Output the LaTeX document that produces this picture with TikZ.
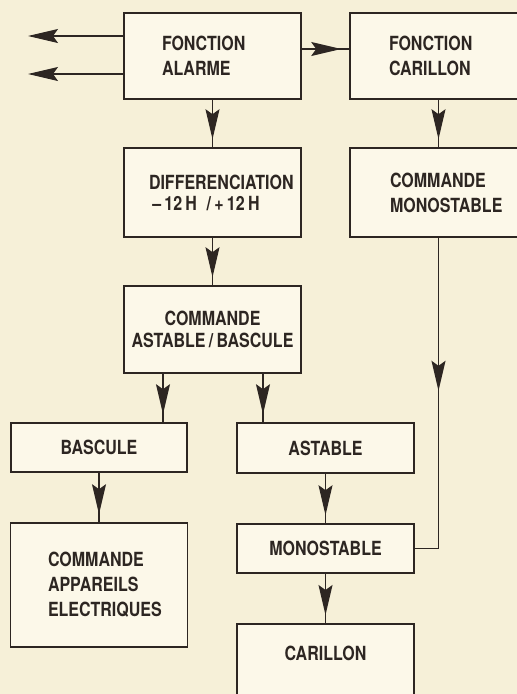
\documentclass[tikz,border=0pt]{standalone}
\usepackage{fontspec}
\setmainfont[FakeStretch=0.82]{TeX Gyre Heros}
\usetikzlibrary{arrows.meta,decorations.markings}

\definecolor{paper}{RGB}{246,240,216}
\definecolor{boxfill}{RGB}{252,248,233}
\definecolor{ink}{RGB}{45,38,34}

\tikzset{
  block/.style={draw=ink, line width=1.6pt, fill=boxfill, text=ink,
    minimum width=177pt, inner sep=0pt, align=center,
    font=\bfseries\fontsize{19.5}{25}\selectfont},
  head/.style={-{Stealth[length=30pt,width=14pt,inset=5pt]}},
  flow/.style={draw=ink, line width=1.2pt, postaction={decorate},
    decoration={markings, mark=at position #1 with
      {\arrow[ink]{Stealth[length=30pt,width=14pt,inset=5pt]}}}},
  flow/.default=-8pt
}

\begin{document}
\begin{tikzpicture}[x=1pt, y=-1pt]
% Page
\path[use as bounding box, fill=paper] (0,0) rectangle (517,694);
\clip (0,0) rectangle (517,694);

% Boxes (left aligned texts: inner xsep + text width = 177pt)
\node[block, align=left, inner xsep=38pt, text width=101pt, minimum height=86pt] (alarme) at (212.5,56) {FONCTION\\ALARME};
\node[block, align=left, inner xsep=39pt, text width=99pt, minimum height=86pt] (carf) at (438.5,56) {FONCTION\\CARILLON};
\node[block, align=left, inner xsep=25pt, text width=127pt, minimum height=89pt] (diff) at (212.5,192.5) {DIFFERENCIATION\\[-4pt]\,–\,12\,H\ \,/\,+\,12\,H};
\node[block, align=left, inner xsep=40pt, text width=97pt, minimum height=89pt] (cmdmono) at (438.5,192.5) {COMMANDE\\MONOSTABLE};
\node[block, minimum height=87pt] (cmdab) at (212.5,329.5) {COMMANDE\\[-3pt]ASTABLE\,/\,BASCULE};
\node[block, minimum width=176pt, minimum height=49pt] (bascule) at (99,447.5) {BASCULE};
\node[block, minimum height=50pt] (astable) at (325.5,448) {ASTABLE};
\node[block, align=left, inner xsep=37pt, text width=102pt, minimum height=124pt] (appareils) at (99,585) {COMMANDE\\APPAREILS\\ELECTRIQUES};
\node[block, minimum height=49pt] (mono) at (325.5,548.5) {MONOSTABLE};
\node[block, anchor=north, text height=37pt, text depth=60pt] (carillon) at (325.5,623) {CARILLON};

% Outputs of the alarm
\coordinate (out1) at (28,36);
\coordinate (out2) at (28,74);
\draw[ink, line width=1.2pt, head] (alarme.west |- out1) -- (out1);
\draw[ink, line width=1.2pt, head] (alarme.west |- out2) -- (out2);

% Arrows
\draw[flow] ([yshift=7pt]alarme.east) -- ([yshift=7pt]carf.west);
\draw[flow] (alarme.south) -- (diff.north);
\draw[flow] (carf.south) -- (cmdmono.north);
\draw[flow] (diff.south) -- (cmdab.north);
\coordinate (ab1) at ([xshift=-49.5pt]cmdab.south);
\coordinate (ab2) at ([xshift=50.5pt]cmdab.south);
\draw[flow] (ab1) -- (ab1 |- bascule.north);
\draw[flow] (ab2) -- (ab2 |- astable.north);
\draw[flow] (bascule.south) -- (appareils.north);
\draw[flow] (astable.south) -- (mono.north);
\draw[flow] (mono.south) -- (carillon.north);
\draw[flow=153pt] (cmdmono.south) |- (mono.east);
\end{tikzpicture}
\end{document}
